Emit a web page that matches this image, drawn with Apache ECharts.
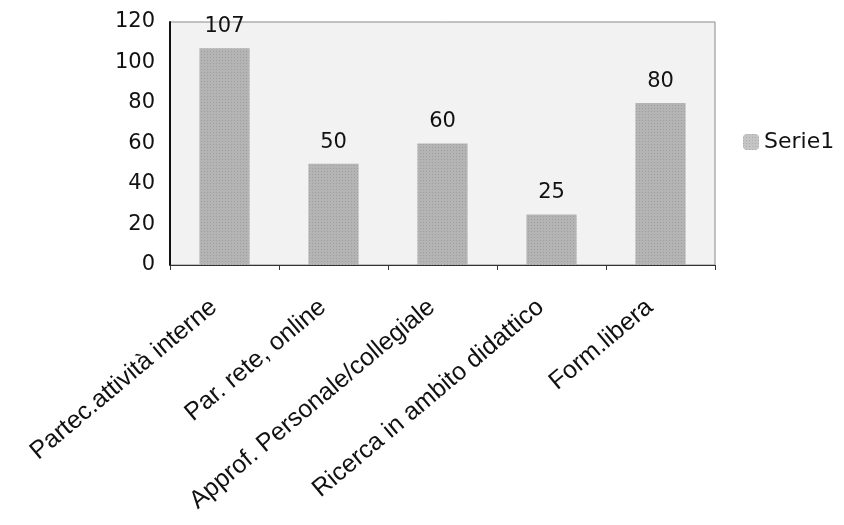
<!DOCTYPE html>
<html>
<head>
<meta charset="utf-8">
<script src="https://cdn.jsdelivr.net/npm/echarts@6/dist/echarts.min.js"></script>
<style>
  html, body { margin: 0; padding: 0; background: #ffffff; }
  #chart { width: 844px; height: 525px; }
</style>
</head>
<body>
<div id="chart"></div>
<script>
// Categories and values for the single series
const categories = [
  'Partec.attività interne',
  'Par. rete, online',
  'Approf. Personale/collegiale',
  'Ricerca in ambito didattico',
  'Form.libera'
];
const serie1 = [107, 50, 60, 25, 80];
const yTicks = { min: 0, max: 120, interval: 20 };
const seriesName = 'Serie1';

const chart = echarts.init(document.getElementById('chart'));

// fine dark stipple over the grey bar fill
const barDecal = {
  symbol: 'rect',
  symbolSize: 0.6,
  color: 'rgba(70,70,70,0.6)',
  dashArrayX: [1, 2],
  dashArrayY: [1, 2],
  rotation: 0
};

chart.setOption({
  backgroundColor: '#ffffff',
  animation: false,
  legend: {
    left: 738,
    top: 126,
    orient: 'vertical',
    itemWidth: 16,
    itemHeight: 16,
    itemGap: 6,
    textStyle: { fontFamily: 'DejaVu Sans', fontSize: 22, color: '#111' },
    data: [{ name: seriesName, itemStyle: { color: '#c4c4c4', decal: barDecal } }]
  },
  grid: {
    left: 170,
    right: 129,
    top: 22,
    bottom: 260,
    show: true,
    backgroundColor: '#f2f2f2',
    borderColor: '#8a8a8a',
    borderWidth: 1
  },
  xAxis: {
    type: 'category',
    data: categories,
    axisLine: { show: true, lineStyle: { color: '#333', width: 1 } },
    axisTick: { show: true, alignWithLabel: false, length: 5, lineStyle: { color: '#333' } },
    axisLabel: {
      interval: 0,
      rotate: 40,
      margin: 30,
      padding: [0, 14, 0, 0],
      fontFamily: 'Liberation Sans',
      fontSize: 25,
      color: '#111'
    }
  },
  yAxis: {
    type: 'value',
    min: yTicks.min,
    max: yTicks.max,
    interval: yTicks.interval,
    axisLine: { show: true, lineStyle: { color: '#111', width: 2 } },
    axisTick: { show: false },
    splitLine: { show: false },
    axisLabel: {
      margin: 15,
      fontFamily: 'DejaVu Sans',
      fontSize: 21,
      color: '#111'
    }
  },
  series: [{
    name: seriesName,
    type: 'bar',
    data: serie1,
    barWidth: '46%',
    itemStyle: { color: '#b4b4b4', decal: barDecal },
    label: {
      show: true,
      position: 'top',
      distance: 11,
      fontFamily: 'DejaVu Sans',
      fontSize: 21,
      color: '#111'
    }
  }]
});
</script>
</body>
</html>
